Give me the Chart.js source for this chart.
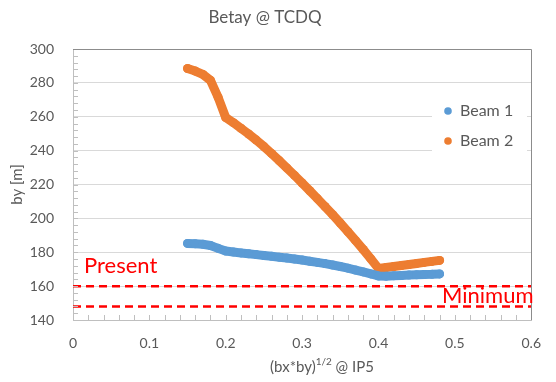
<!DOCTYPE html>
<html>
<head>
<meta charset="utf-8">
<title>Betay @ TCDQ</title>
<script src="https://cdn.jsdelivr.net/npm/chart.js@4.4.1/dist/chart.umd.min.js"></script>
<style>
  body { margin: 0; background: #ffffff; }
  #betaChart { display: block; }
</style>
</head>
<body>
<canvas id="betaChart" width="556" height="382"></canvas>
<script>
// sqrt(bx*by) at IP5
const xValues = [
  0.15, 0.16, 0.17, 0.18, 0.19, 0.20, 0.21, 0.22, 0.23, 0.24, 0.25, 0.26,
  0.27, 0.28, 0.29, 0.30, 0.31, 0.32, 0.33, 0.34, 0.35, 0.36, 0.37, 0.38,
  0.39, 0.40, 0.41, 0.42, 0.43, 0.44, 0.45, 0.46, 0.47, 0.48,
];

// betay at the TCDQ [m]
const beam1 = [
  185.2, 185.0, 184.7, 184.0, 182.3, 180.7, 180.1, 179.6, 179.1, 178.6, 178.1, 177.6,
  177.1, 176.6, 176.0, 175.4, 174.7, 174.0, 173.3, 172.5, 171.6, 170.6, 169.5, 168.4,
  167.2, 166.0, 165.9, 166.1, 166.3, 166.5, 166.7, 166.9, 167.0, 167.2,
];
const beam2 = [
  288.5, 287.0, 285.0, 281.5, 271.5, 259.5, 256.5, 253.2, 249.8, 246.2, 242.4, 238.3,
  234.1, 229.8, 225.4, 220.9, 216.3, 211.7, 207.0, 202.2, 197.2, 192.1, 186.9, 181.6,
  176.1, 170.4, 171.0, 171.6, 172.2, 172.8, 173.4, 174.0, 174.6, 175.2,
];

const seriesNames = ["Beam 1", "Beam 2"];
const seriesColors = ["#5B9BD5", "#ED7D31"];

// reference levels
const presentLevel = 160;
const minimumLevel = 148;

const xRange = [0, 0.6];
const yRange = [140, 300];

const textGray = "#595959";
const fontName = "Lato";

function toPoints(xs, ys) {
  return xs.map((x, i) => ({ x: x, y: ys[i] }));
}

function levelLine(y) {
  return [{ x: xRange[0], y: y }, { x: xRange[1], y: y }];
}

function beamDataset(label, ys, color) {
  return {
    label: label,
    data: toPoints(xValues, ys),
    showLine: true,
    borderColor: color,
    backgroundColor: color,
    borderWidth: 9,
    borderCapStyle: "round",
    borderJoinStyle: "round",
    pointRadius: 4.5,
    pointBorderWidth: 0,
    pointHoverRadius: 4.5,
  };
}

function dashedDataset(label, y) {
  return {
    label: label,
    data: levelLine(y),
    showLine: true,
    borderColor: "#FF0000",
    borderWidth: 2.5,
    borderDash: [8, 5],
    pointRadius: 0,
    clip: false,
  };
}

// title, axis title with superscript, legend box, level labels, minor ticks
const decorations = {
  id: "decorations",
  afterDraw(chart) {
    const ctx = chart.ctx;
    const area = chart.chartArea;
    const xs = chart.scales.x;
    const ys = chart.scales.y;

    ctx.save();

    // minor ticks inside the axes
    ctx.strokeStyle = "#bfbfbf";
    ctx.lineWidth = 1;
    ctx.beginPath();
    for (let v = yRange[0]; v <= yRange[1]; v += 4) {
      const py = Math.round(ys.getPixelForValue(v)) + 0.5;
      ctx.moveTo(area.left, py);
      ctx.lineTo(area.left + 5, py);
    }
    for (let i = 0; i <= 30; i++) {
      const px = Math.round(xs.getPixelForValue(i * 0.02)) + 0.5;
      ctx.moveTo(px, area.bottom);
      ctx.lineTo(px, area.bottom - 5);
    }
    ctx.stroke();

    // plot frame on top and right
    ctx.strokeStyle = "#8c8c8c";
    ctx.beginPath();
    ctx.moveTo(area.left, Math.round(area.top) + 0.5);
    ctx.lineTo(Math.round(area.right) + 0.5, Math.round(area.top) + 0.5);
    ctx.lineTo(Math.round(area.right) + 0.5, area.bottom);
    ctx.stroke();

    // chart title
    ctx.fillStyle = textGray;
    ctx.textBaseline = "middle";
    ctx.textAlign = "center";
    ctx.font = "17px " + fontName;
    ctx.fillText("Betay @ TCDQ", 265, 18);

    // x axis title: (bx*by)^(1/2) @ IP5
    const base = "(bx*by)";
    const sup = "1/2";
    const tail = " @ IP5";
    ctx.font = "15px " + fontName;
    const wBase = ctx.measureText(base).width;
    const wTail = ctx.measureText(tail).width;
    ctx.font = "10px " + fontName;
    const wSup = ctx.measureText(sup).width;
    let tx = 322 - (wBase + wSup + wTail) / 2;
    const ty = 367;
    ctx.textAlign = "left";
    ctx.font = "15px " + fontName;
    ctx.fillText(base, tx, ty);
    tx += wBase;
    ctx.font = "10px " + fontName;
    ctx.fillText(sup, tx, ty - 5);
    tx += wSup;
    ctx.font = "15px " + fontName;
    ctx.fillText(tail, tx, ty);

    // legend inside the plot
    ctx.fillStyle = "#ffffff";
    ctx.fillRect(432, 97, 95, 60);
    ctx.font = "16px " + fontName;
    seriesNames.forEach((name, i) => {
      const cy = 111 + i * 30;
      ctx.fillStyle = seriesColors[i];
      ctx.beginPath();
      ctx.arc(448, cy, 3.8, 0, Math.PI * 2);
      ctx.fill();
      ctx.fillStyle = textGray;
      ctx.fillText(name, 460, cy);
    });

    // level labels
    ctx.fillStyle = "#FF0000";
    ctx.font = "22px " + fontName;
    ctx.fillText("Present", 84, 266);
    ctx.fillText("Minimum", 442, 296);

    ctx.restore();
  },
};

const canvas = document.getElementById("betaChart");
const chart = new Chart(canvas, {
  type: "scatter",
  data: {
    datasets: [
      dashedDataset("Present", presentLevel),
      dashedDataset("Minimum", minimumLevel),
      beamDataset(seriesNames[0], beam1, seriesColors[0]),
      beamDataset(seriesNames[1], beam2, seriesColors[1]),
    ],
  },
  options: {
    responsive: false,
    animation: false,
    events: [],
    layout: {
      padding: { top: 49, right: 11, bottom: 0, left: 0 },
    },
    plugins: {
      legend: { display: false },
      title: { display: false },
      tooltip: { enabled: false },
    },
    scales: {
      x: {
        type: "linear",
        min: xRange[0],
        max: xRange[1],
        afterFit(scale) {
          scale.height = 62;
        },
        ticks: {
          stepSize: 0.1,
          color: textGray,
          font: { family: fontName, size: 14 },
          padding: 15,
          maxRotation: 0,
          callback: (v) => String(Number(v.toFixed(1))),
        },
        grid: { display: false, drawTicks: false },
        border: { color: "#bfbfbf", width: 1 },
      },
      y: {
        type: "linear",
        min: yRange[0],
        max: yRange[1],
        afterFit(scale) {
          scale.width = 73;
        },
        ticks: {
          stepSize: 20,
          color: textGray,
          font: { family: fontName, size: 14 },
          padding: 19,
        },
        grid: { color: "#d9d9d9", lineWidth: 1, drawTicks: false },
        border: { color: "#bfbfbf", width: 1 },
        title: {
          display: true,
          text: "by [m]",
          color: textGray,
          font: { family: fontName, size: 15 },
          padding: { top: 8, bottom: 0 },
        },
      },
    },
  },
  plugins: [decorations],
});
</script>
</body>
</html>
